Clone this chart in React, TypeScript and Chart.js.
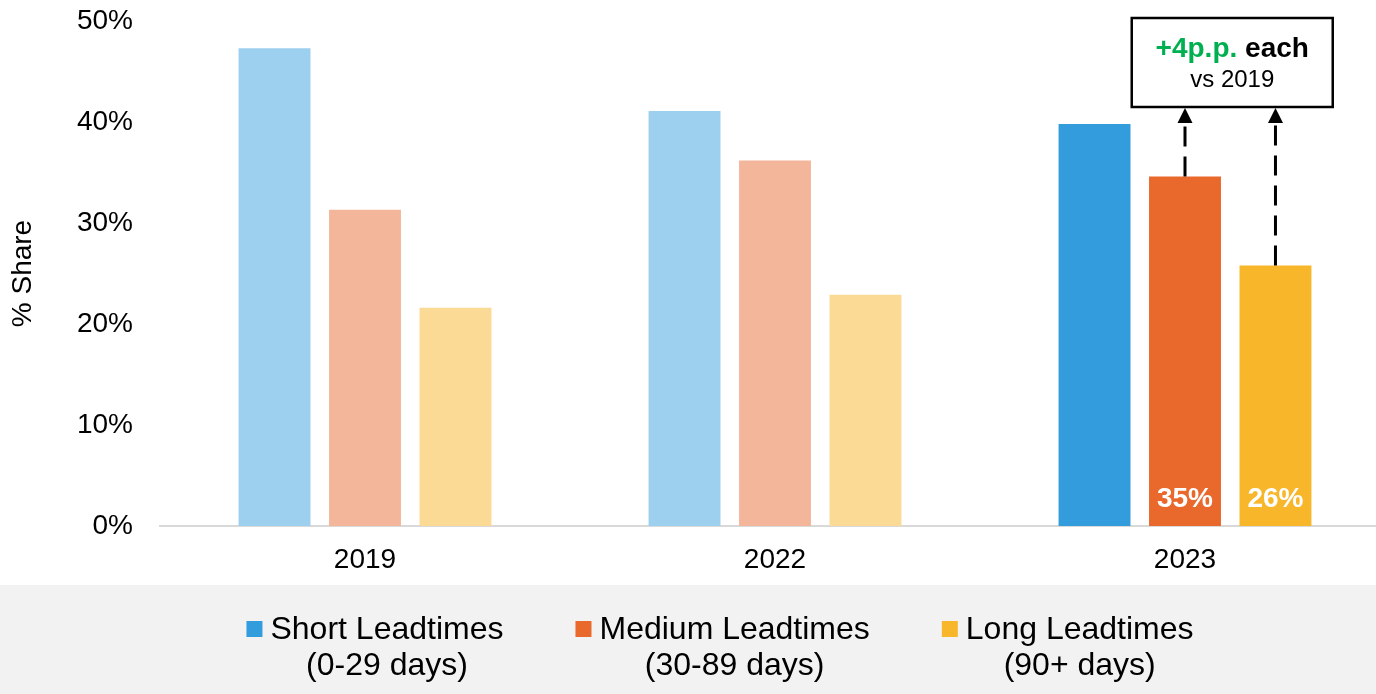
import React, { useEffect, useRef } from "react";
import { Chart, registerables } from "chart.js";

Chart.register(...registerables);

const categories = ["2019", "2022", "2023"];
const seriesNames = ["Short Leadtimes", "Medium Leadtimes", "Long Leadtimes"];
const seriesRanges = ["(0-29 days)", "(30-89 days)", "(90+ days)"];
const shortValues = [47.3, 41.1, 39.8];
const mediumValues = [31.3, 36.2, 34.6];
const longValues = [21.6, 22.9, 25.8];
const yTicks = [0, 10, 20, 30, 40, 50];
const fullColors = ["#339CDD", "#E9692C", "#F8B62A"];
const fadedColors = ["#9DCFEF", "#F4B69B", "#FBDA95"];
const highlightIndex = 2;
const labelledSeries = [1, 2];
const calloutGreen = "+4p.p.";
const calloutBlack = " each";
const calloutSub = "vs 2019";

const FONT = "'Liberation Sans', Arial, Helvetica, sans-serif";
const seriesValues = [shortValues, mediumValues, longValues];

const overlayPlugin = {
  id: "overlay",
  beforeDraw(chart: any) {
    const { ctx, width, height } = chart;
    ctx.save();
    ctx.fillStyle = "#FFFFFF";
    ctx.fillRect(0, 0, width, height);
    ctx.fillStyle = "#F2F2F2";
    ctx.fillRect(0, 585, width, height - 585);
    ctx.restore();
  },
  afterDraw(chart: any) {
    const { ctx, chartArea } = chart;
    ctx.save();

    // ---- legend ----
    ctx.font = `32px ${FONT}`;
    const widths = seriesNames.map((n) => ctx.measureText(n).width);
    const markerSize = 16;
    const markerGap = 8;
    const itemGap = 72;
    const total =
      widths.reduce((a, w) => a + markerSize + markerGap + w, 0) +
      itemGap * (seriesNames.length - 1);
    let x = 720 - total / 2;
    seriesNames.forEach((name, i) => {
      ctx.fillStyle = fullColors[i];
      ctx.fillRect(x, 621, markerSize, markerSize);
      const tx = x + markerSize + markerGap;
      ctx.fillStyle = "#000";
      ctx.textBaseline = "alphabetic";
      ctx.textAlign = "left";
      ctx.font = `32px ${FONT}`;
      ctx.fillText(name, tx, 639);
      ctx.textAlign = "center";
      ctx.fillText(seriesRanges[i], tx + widths[i] / 2, 675);
      x = tx + widths[i] + itemGap;
    });

    // ---- value labels inside highlighted bars ----
    labelledSeries.forEach((si) => {
      const bar = chart.getDatasetMeta(si).data[highlightIndex];
      ctx.font = `bold 28px ${FONT}`;
      ctx.fillStyle = "#FFFFFF";
      ctx.textAlign = "center";
      ctx.textBaseline = "middle";
      ctx.fillText(
        `${Math.round(seriesValues[si][highlightIndex])}%`,
        bar.x,
        chartArea.bottom - 27
      );
    });

    // ---- callout box ----
    const b1 = chart.getDatasetMeta(labelledSeries[0]).data[highlightIndex];
    const b2 = chart.getDatasetMeta(labelledSeries[1]).data[highlightIndex];
    const cx = (b1.x + b2.x) / 2 + 2;
    const boxW = 201;
    const boxTop = chartArea.top - 3;
    const boxBottom = chartArea.top + 86;
    ctx.fillStyle = "#FFFFFF";
    ctx.fillRect(cx - boxW / 2, boxTop, boxW, boxBottom - boxTop);
    ctx.strokeStyle = "#000";
    ctx.lineWidth = 2.5;
    ctx.strokeRect(cx - boxW / 2, boxTop, boxW, boxBottom - boxTop);

    ctx.textBaseline = "alphabetic";
    ctx.textAlign = "left";
    ctx.font = `bold 28px ${FONT}`;
    const wg = ctx.measureText(calloutGreen).width;
    const wb = ctx.measureText(calloutBlack).width;
    const sx = cx - (wg + wb) / 2;
    ctx.fillStyle = "#00B050";
    ctx.fillText(calloutGreen, sx, boxTop + 39);
    ctx.fillStyle = "#000";
    ctx.fillText(calloutBlack, sx + wg, boxTop + 39);
    ctx.font = `24px ${FONT}`;
    ctx.textAlign = "center";
    ctx.fillText(calloutSub, cx, boxTop + 69);

    // ---- arrows ----
    [b1, b2].forEach((bar) => {
      const ax = bar.x;
      ctx.strokeStyle = "#000";
      ctx.lineWidth = 3;
      ctx.setLineDash([20, 10]);
      ctx.beginPath();
      ctx.moveTo(ax, bar.y);
      ctx.lineTo(ax, boxBottom + 15);
      ctx.stroke();
      ctx.setLineDash([]);
      ctx.fillStyle = "#000";
      ctx.beginPath();
      ctx.moveTo(ax, boxBottom + 1);
      ctx.lineTo(ax - 7.5, boxBottom + 16);
      ctx.lineTo(ax + 7.5, boxBottom + 16);
      ctx.closePath();
      ctx.fill();
    });

    ctx.restore();
  },
};

export default function App() {
  const ref = useRef<HTMLCanvasElement>(null);

  useEffect(() => {
    document.body.style.margin = "0";
    const canvas = ref.current;
    if (!canvas) return;
    const chart = new Chart(canvas, {
      type: "bar",
      data: {
        labels: categories,
        datasets: seriesNames.map((name, i) => ({
          label: name,
          data: seriesValues[i],
          backgroundColor: categories.map((_, ci) =>
            ci === highlightIndex ? fullColors[i] : fadedColors[i]
          ),
          borderWidth: 0,
          categoryPercentage: 0.662,
          barPercentage: 0.795,
        })),
      },
      options: {
        responsive: false,
        animation: false,
        layout: { padding: { top: 21, left: 0, right: 0, bottom: 109 } },
        plugins: {
          legend: { display: false },
          tooltip: { enabled: false },
        },
        scales: {
          x: {
            grid: { display: false, drawTicks: false },
            border: { display: true, color: "#D9D9D9", width: 2 },
            ticks: {
              color: "#000",
              font: { family: FONT, size: 28 },
              padding: 17,
            },
            afterFit: (s: any) => {
              s.height = 59;
              s.paddingLeft = 0;
              s.paddingRight = 0;
            },
          },
          y: {
            min: 0,
            max: 50,
            grid: { display: false, drawTicks: false },
            border: { display: false },
            afterBuildTicks: (s: any) => {
              s.ticks = yTicks.map((v) => ({ value: v }));
            },
            ticks: {
              color: "#000",
              font: { family: FONT, size: 28 },
              padding: 27,
              callback: (v: any) => `${v}%`,
            },
            title: {
              display: true,
              text: "% Share",
              color: "#000",
              font: { family: FONT, size: 28 },
              padding: { top: 6, bottom: 0 },
            },
            afterFit: (s: any) => {
              s.width = 160;
              s.paddingTop = 0;
              s.paddingBottom = 0;
            },
          },
        },
      },
      plugins: [overlayPlugin],
    });
    return () => chart.destroy();
  }, []);

  return (
    <div
      style={{
        position: "fixed",
        left: 0,
        top: 0,
        width: 1376,
        height: 694,
        overflow: "hidden",
        background: "#fff",
      }}
    >
      <canvas
        ref={ref}
        width={1390}
        height={694}
        style={{ display: "block", width: 1390, height: 694 }}
      />
    </div>
  );
}
